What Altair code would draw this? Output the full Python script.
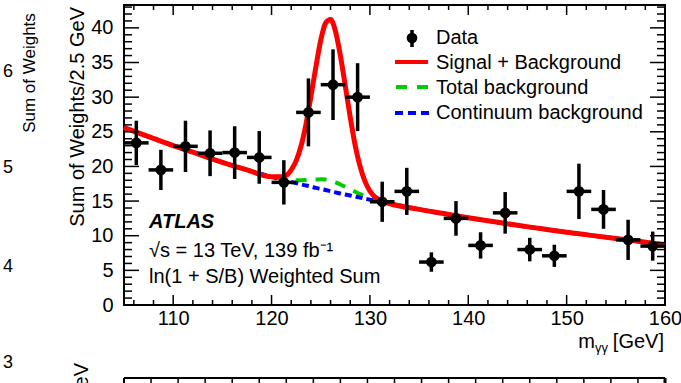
import altair as alt
import pandas as pd

# ---------------- data ----------------
mass = [106.25, 108.75, 111.25, 113.75, 116.25, 118.75, 121.25, 123.75, 126.25, 128.75, 131.25,
        133.75, 136.25, 138.75, 141.25, 143.75, 146.25, 148.75, 151.25, 153.75, 156.25, 158.75]
weights = [23.4, 19.5, 22.9, 21.9, 22.0, 21.3, 17.7, 27.8, 31.8, 30.0, 14.9,
           16.4, 6.2, 12.5, 8.6, 13.3, 8.0, 7.1, 16.4, 13.8, 9.4, 8.5]
errors = [3.2, 2.9, 3.7, 3.3, 3.8, 3.8, 3.2, 4.9, 5.1, 4.9, 2.9,
          3.4, 1.4, 2.5, 1.9, 3.0, 1.7, 1.6, 4.0, 2.8, 2.9, 2.1]

curve_m = [105, 107.5, 110, 112.5, 115, 117.5, 120, 121, 121.5, 122, 122.5, 123, 123.5, 124, 124.5,
           125, 125.5, 126, 126.5, 127, 127.5, 128, 128.5, 129, 129.5, 130, 130.5, 131, 132,
           135, 137.5, 140, 142.5, 145, 147.5, 150, 152.5, 155, 157.5, 160]
continuum_bkg = [25.6, 24.3, 23.0, 21.8, 20.6, 19.5, 18.5, 18.1, 17.9, 17.75, 17.6, 17.4, 17.25, 17.1, 16.9,
                 16.75, 16.6, 16.4, 16.25, 16.1, 15.95, 15.8, 15.65, 15.5, 15.35, 15.2, 15.05, 14.9, 14.65,
                 13.8, 13.2, 12.6, 12.05, 11.5, 11.0, 10.5, 10.05, 9.6, 9.15, 8.7]
total_bkg = [25.6, 24.3, 23.0, 21.8, 20.6, 19.5, 18.5, 18.2, 18.05, 18.05, 18.0, 18.0, 18.05, 18.1, 18.1,
             18.15, 18.1, 17.9, 17.7, 17.4, 17.05, 16.7, 16.35, 16.0, 15.7, 15.4, 15.15, 14.95, 14.65,
             13.8, 13.2, 12.6, 12.05, 11.5, 11.0, 10.5, 10.05, 9.6, 9.15, 8.7]
signal_plus_bkg = [25.6, 24.3, 23.0, 21.8, 20.6, 19.5, 18.5, 18.5, 18.7, 19.5, 20.8, 22.95, 26.1, 30.1, 34.3,
                   38.2, 40.7, 41.2, 39.5, 36.0, 31.6, 27.1, 23.05, 20.0, 17.85, 16.45, 15.6, 15.15, 14.65,
                   13.8, 13.2, 12.6, 12.05, 11.5, 11.0, 10.5, 10.05, 9.6, 9.15, 8.7]

x_major = [110, 120, 130, 140, 150, 160]
x_minor = [106, 108, 112, 114, 116, 118, 122, 124, 126, 128, 132, 134, 136, 138,
           142, 144, 146, 148, 152, 154, 156, 158]
y_major = [0, 5, 10, 15, 20, 25, 30, 35, 40]
y_minor = [1, 2, 3, 4, 6, 7, 8, 9, 11, 12, 13, 14, 16, 17, 18, 19, 21, 22, 23, 24,
           26, 27, 28, 29, 31, 32, 33, 34, 36, 37, 38, 39, 41, 42, 43]
# lower (cropped) panel runs from 120 to 160 GeV
p2_major = [130, 140, 150, 160]
p2_minor = [122, 124, 126, 128, 132, 134, 136, 138, 142, 144, 146, 148, 152, 154, 156, 158]
side_numbers = ["6", "5", "4", "3"]

# ---------------- layout ----------------
W, H = 541, 300
FONT = "Liberation Sans"
RED, GREEN, BLUE = "#ff0000", "#00cc00", "#0000ff"

xs = alt.Scale(domain=[105, 160], nice=False, zero=False)
ys = alt.Scale(domain=[0, 43.3], nice=False, zero=False)

pts = pd.DataFrame({"m": mass, "w": weights, "e": errors})
cur = pd.DataFrame({"m": curve_m, "cont": continuum_bkg, "tot": total_bkg, "sb": signal_plus_bkg})

x_axis = alt.Axis(values=x_major, ticks=False, domain=False, grid=False, labelFontSize=20,
                  labelFont=FONT, labelColor="black", labelPadding=3, labelFlush=False,
                  labelOverlap=False, title=None)
y_axis = alt.Axis(values=y_major, ticks=False, domain=False, grid=False, labelFontSize=20,
                  labelFont=FONT, labelColor="black", labelPadding=11, labelFlush=False,
                  labelOverlap=False, title=None)


def X(field):
    return alt.X(field, scale=xs, axis=x_axis)


def Y(field):
    return alt.Y(field, scale=ys, axis=y_axis)


base_c = alt.Chart(cur)
green = base_c.mark_line(color=GREEN, strokeWidth=4, strokeDash=[11, 9], interpolate="monotone").encode(
    x=X("m:Q"), y=Y("tot:Q"))
blue = base_c.mark_line(color=BLUE, strokeWidth=4, strokeDash=[7, 4], interpolate="monotone").encode(
    x=X("m:Q"), y=Y("cont:Q"))
red = base_c.mark_line(color=RED, strokeWidth=5, interpolate="monotone").encode(
    x=X("m:Q"), y=Y("sb:Q"))

base_p = alt.Chart(pts).transform_calculate(
    lo="datum.w - datum.e", hi="datum.w + datum.e", ml="datum.m - 1.25", mh="datum.m + 1.25")
vbar = base_p.mark_rule(color="black", strokeWidth=3.5).encode(
    x=X("m:Q"), y=Y("lo:Q"), y2="hi:Q")
hbar = base_p.mark_rule(color="black", strokeWidth=3.5).encode(
    x=X("ml:Q"), x2="mh:Q", y=Y("w:Q"))
dots = base_p.mark_circle(color="black", size=115, opacity=1).encode(
    x=X("m:Q"), y=Y("w:Q"))


def xticks(vals, length):
    d = alt.Chart(pd.DataFrame({"v": vals}))
    bot = d.mark_rule(color="black", strokeWidth=1.5).encode(
        x=X("v:Q"), y=alt.value(H), y2=alt.value(H - length))
    top = d.mark_rule(color="black", strokeWidth=1.5).encode(
        x=X("v:Q"), y=alt.value(0), y2=alt.value(length))
    return [bot, top]


def yticks(vals, length):
    d = alt.Chart(pd.DataFrame({"v": vals}))
    left = d.mark_rule(color="black", strokeWidth=1.5).encode(
        y=Y("v:Q"), x=alt.value(0), x2=alt.value(length))
    right = d.mark_rule(color="black", strokeWidth=1.5).encode(
        y=Y("v:Q"), x=alt.value(W), x2=alt.value(W - length))
    return [left, right]


def p2ticks(vals, length):
    # map lower-panel GeV (120..160) onto the shared 105..160 scale
    d = alt.Chart(pd.DataFrame({"v": vals})).transform_calculate(
        u="105 + (datum.v - 120) * 55 / 40")
    return d.mark_rule(color="black", strokeWidth=1.5).encode(
        x=X("u:Q"), y=alt.value(373), y2=alt.value(373 + length))


def text(txt, x, y, size=20, align="left", baseline="alphabetic", angle=0, style="normal", weight="normal"):
    return alt.Chart(pd.DataFrame({"t": [txt]})).mark_text(
        align=align, baseline=baseline, fontSize=size, font=FONT, fontStyle=style,
        fontWeight=weight, angle=angle, color="black").encode(
        text="t:N", x=alt.value(x), y=alt.value(y))


def seg(x, x2, y, y2, color="black", width=2, dash=None):
    kw = dict(color=color, strokeWidth=width)
    if dash:
        kw["strokeDash"] = dash
    return alt.Chart(pd.DataFrame({"a": [0]})).mark_rule(**kw).encode(
        x=alt.value(x), x2=alt.value(x2), y=alt.value(y), y2=alt.value(y2))


one = pd.DataFrame({"a": [0]})
leg_dot = alt.Chart(one).mark_circle(color="black", size=115, opacity=1).encode(
    x=alt.value(288), y=alt.value(33))

annotations = [
    # legend
    seg(288, 288, 25, 42, width=3.5),
    leg_dot,
    seg(271, 304, 57, 57, color=RED, width=4),
    seg(272, 304, 82, 82, color=GREEN, width=4, dash=[11, 10]),
    seg(271, 305, 108, 108, color=BLUE, width=4, dash=[8, 5]),
    text("Data", 312, 39),
    text("Signal + Background", 312, 64),
    text("Total background", 312, 89),
    text("Continuum background", 312, 114),
    # ATLAS label
    text("ATLAS", 25, 223, style="italic", weight="bold"),
    text("\u221as = 13 TeV, 139 fb\u207b\u00b9", 25, 252),
    text("ln(1 + S/B) Weighted Sum", 25, 278),
    # axis titles
    text("Sum of Weights/2.5 GeV", -46, 2, align="right", baseline="middle", angle=270),
    text("[GeV]", 540, 343, align="right"),
    text("\u03b3\u03b3", 484, 347, size=13, align="right"),
    text("m", 471, 343, align="right"),
    # neighbouring panels (cropped)
    text("Sum of Weights", -94, 68, size=17, align="center", baseline="middle", angle=270),
    text(side_numbers[0], -121, 67, size=18, baseline="middle"),
    text(side_numbers[1], -121, 163, size=18, baseline="middle"),
    text(side_numbers[2], -121, 262, size=18, baseline="middle"),
    text(side_numbers[3], -121, 358, size=18, baseline="middle"),
    text("Data - Bkg/2.5 GeV", -42, 358, align="right", baseline="middle", angle=270),
    seg(0, W, 373, 373),
    seg(0, 0, 373, 390),
    seg(W, W, 373, 390, width=3),
]

chart = alt.layer(green, blue, red, vbar, hbar, dots,
                  *xticks(x_major, 10), *xticks(x_minor, 5),
                  *yticks(y_major, 15), *yticks(y_minor, 8),
                  p2ticks(p2_major, 10), p2ticks(p2_minor, 5),
                  *annotations).properties(
    width=W, height=H,
    padding={"left": 124, "top": 5, "right": 16, "bottom": 78},
    autosize=alt.AutoSizeParams(type="none"),
    background="white",
).configure_view(stroke="black", strokeWidth=2)

chart.save("out.html", embed_options={"renderer": "svg", "actions": False})
